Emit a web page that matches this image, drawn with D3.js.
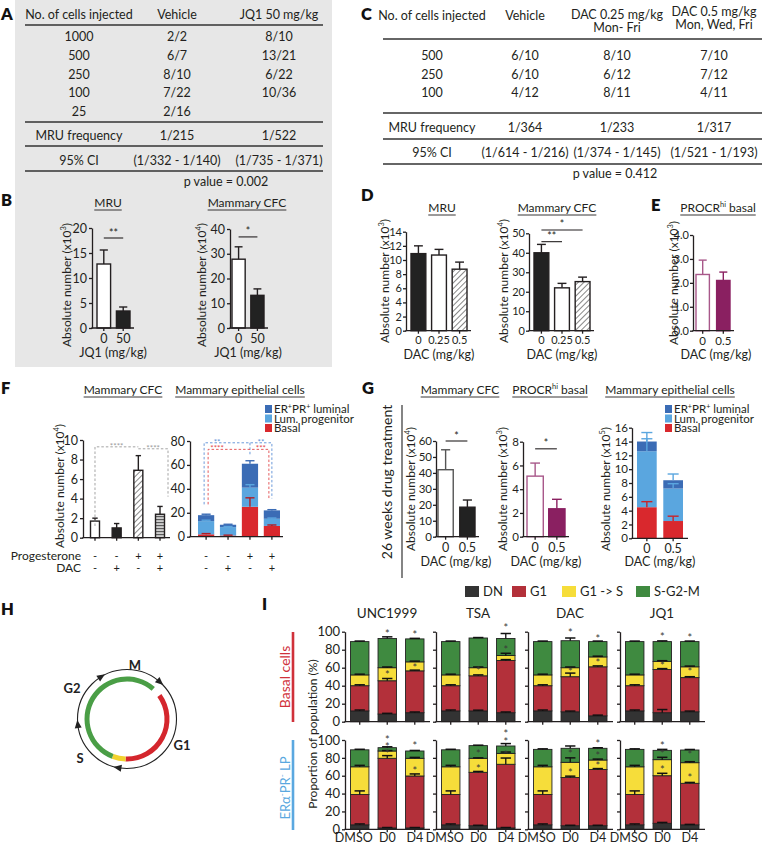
<!DOCTYPE html>
<html><head><meta charset="utf-8">
<script src="https://cdn.jsdelivr.net/npm/d3@7/dist/d3.min.js"></script>
<style>
body{margin:0;background:#fff}
svg{display:block}
text{font-family:Lato,"Open Sans",sans-serif}
</style></head><body>
<svg id="fig" width="763" height="846"></svg>
<script>
// ================= DATA =================
// Panel A table
const tableA_header = ["No. of cells injected", "Vehicle", "JQ1 50 mg/kg"];
const tableA_cells = ["1000", "500", "250", "100", "25"];
const tableA_vehicle = ["2/2", "6/7", "8/10", "7/22", "2/16"];
const tableA_jq1 = ["8/10", "13/21", "6/22", "10/36", ""];
const tableA_freq = ["MRU frequency", "1/215", "1/522"];
const tableA_ci = ["95% CI", "(1/332 - 1/140)", "(1/735 - 1/371)"];
const tableA_p = "p value = 0.002";
// Panel C table
const tableC_header = [["No. of cells injected"], ["Vehicle"], ["DAC 0.25 mg/kg", "Mon- Fri"], ["DAC 0.5 mg/kg", "Mon, Wed, Fri"]];
const tableC_cells = ["500", "250", "100"];
const tableC_vehicle = ["6/10", "6/10", "4/12"];
const tableC_dac025 = ["8/10", "6/12", "8/11"];
const tableC_dac05 = ["7/10", "7/12", "4/11"];
const tableC_freq = ["MRU frequency", "1/364", "1/233", "1/317"];
const tableC_ci = ["95% CI", "(1/614 - 1/216)", "(1/374 - 1/145)", "(1/521 - 1/193)"];
const tableC_p = "p value = 0.412";
// Panel B
const jq1Doses = ["0", "50"];
const mruB = [12.8, 3.4], mruBErr = [15.6, 4.2];
const cfcB = [27.8, 13.2], cfcBErr = [32.8, 15.8];
// Panel D
const dacDoses3 = ["0", "0.25", "0.5"];
const mruD = [10.9, 10.7, 8.7], mruDErr = [12.0, 11.5, 9.7];
const cfcD = [40, 22, 25.2], cfcDErr = [44.3, 24.3, 27.5];
// Panel E
const dacDoses2 = ["0", "0.5"];
const procrE = [2.35, 2.1], procrEErr = [2.95, 2.45];
// Panel F
const progesterone = ["-", "-", "+", "+"];
const dacF = ["-", "+", "-", "+"];
const cfcF = [1.7, 1.0, 6.9, 2.4], cfcFErr = [2.0, 1.45, 8.4, 3.2];
const basalF = [2, 1, 25, 9], basalFErr = [2.6, 1.3, 32.5, 9.8];
const lpTopF = [13, 8, 41, 15], lpTopFErr = [13.8, 8.5, 43.5, 15.6];
const totalF = [18, 10, 61, 22], totalFErr = [18.8, 10.4, 63.5, 22.6];
// Panel G
const cfcG = [42, 18.5], cfcGErr = [54.5, 23];
const procrG = [5.1, 2.35], procrGErr = [6.2, 3.15];
const basalG = [4.5, 2.5], basalGErr = [5.3, 3.2];
const lpTopG = [12.6, 7.2], lpTopGErr = [14.4, 7.9];
const totalG = [14, 8.4], totalGErr = [15.3, 9.3];
const lineageNames = ["ER\u207APR\u207A luminal", "Lum. progenitor", "Basal"];
// Panel H (degrees clockwise from 12 o'clock)
const phaseArcStart = [54, 182, 201], phaseArcEnd = [182, 201, 401];
const phaseArcColor = ["#d4262d", "#f2d22e", "#4a9e46"];
const arrowAngles = [-32, 41, 190, 263];
const phaseLabels = ["M", "G2", "G1", "S"];
// Panel I
const drugs = ["UNC1999", "TSA", "DAC", "JQ1"];
const conds = ["DMSO", "D0", "D4"];
const phases = ["DN", "G1", "G1 -> S", "S-G2-M"];
const phaseColors = ["#333333", "#b3303a", "#f6dd3a", "#3f8a40"];
// cumulative tops per drug x condition — basal cells
const basalDN  = [[12, 8.5, 10], [12, 12, 10], [12, 11, 6.5], [12, 10, 11]];
const basalG1  = [[40, 45.5, 56.5], [40, 51, 68], [40, 50, 61], [40, 58, 49]];
const basalG1S = [[52, 60, 66.5], [52, 60, 73.5], [52, 60, 72], [52, 67, 61]];
const basalTot = [[89, 92.5, 92], [89, 93, 92.5], [89, 90, 89], [89, 89, 89]];
const basalErrDN  = [[1, 0.8, 0.8], [1, 0.8, 0.8], [1, 0.8, 0.8], [1, 3.5, 0.8]];
const basalErrG1  = [[1, 2.5, 0.8], [1, 1, 1], [1, 4, 1], [1, 1, 1]];
const basalErrG1S = [[0.8, 0.8, 0.8], [0.8, 0.8, 2.5], [0.8, 0.8, 0.8], [0.8, 0.8, 0.8]];
const basalErrTot = [[0.6, 1.8, 0.6], [0.6, 0.5, 5.5], [0.6, 3, 0.6], [0.6, 0.8, 0.6]];
const basalStars = [[[], [99, 53], [98, 61]], [[], [57], [105, 81]], [[], [100, 56], [93.3, 66]], [[], [95, 63], [94.6, 56]]];
// ERα-PR- LP cells
const lpDN  = [[5, 1.5, 1.5], [5, 4, 1.5], [5, 4, 4], [5, 6.7, 5]];
const lpG1  = [[39, 79.5, 59.7], [39, 63.8, 72.8], [39, 58, 67], [39, 60, 51.5]];
const lpG1S = [[70, 87.7, 79.5], [70, 79.5, 85], [70, 75, 77.6], [70, 78, 74.6]];
const lpTot = [[89, 91.4, 87.7], [89, 93.7, 93.3], [89.5, 90.7, 90.7], [89.5, 88.4, 88.8]];
const lpErrDN  = [[1, 0.5, 0.5], [1, 0.5, 0.5], [1, 0.5, 0.5], [1, 1, 0.5]];
const lpErrG1  = [[4, 3, 2.3], [4, 1, 7], [4, 1.5, 1], [4, 2.7, 1]];
const lpErrG1S = [[1.6, 0.5, 1], [1.6, 0.5, 1.5], [1.6, 5, 1], [1.6, 2.6, 1.1]];
const lpErrTot = [[0.6, 1, 0.6], [0.6, 0.5, 2.7], [0.6, 2.6, 0.6], [0.6, 1.1, 0.6]];
const lpStars = [[[], [101.5, 93.3, 85.8], [94.4, 66.4]], [[], [85, 69], [107.5, 99.2, 84.3]], [[], [85, 64.5], [96.3, 83.2, 72]], [[], [94.4, 85, 67.5], [84, 58.2]]];

// ================= DRAWING =================
const svg = d3.select("#fig");
const INK = "#231f20";
const MAG = "#8a2061", MAGL = "#a8588a";
const C_ER = "#3b6cb5", C_LP = "#5aa6df", C_BA = "#d9282d";
const TFS = 12.5; // table font size

const defs = svg.append("defs");
const ph = defs.append("pattern").attr("id", "hatch").attr("patternUnits", "userSpaceOnUse")
  .attr("width", 4).attr("height", 4).attr("patternTransform", "rotate(45)");
ph.append("rect").attr("width", 4).attr("height", 4).attr("fill", "#fff");
ph.append("line").attr("x1", 0).attr("y1", 0).attr("x2", 0).attr("y2", 4).attr("stroke", "#222").attr("stroke-width", 1.1);
const pl = defs.append("pattern").attr("id", "hlines").attr("patternUnits", "userSpaceOnUse").attr("width", 4).attr("height", 3);
pl.append("rect").attr("width", 4).attr("height", 3).attr("fill", "#cfcfcf");
pl.append("line").attr("x1", 0).attr("x2", 4).attr("y1", 0.6).attr("y2", 0.6).attr("stroke", "#555").attr("stroke-width", 1.1);

function T(x, y, s, o = {}) {
  const fs = o.fs || 11;
  const t = svg.append("text").attr("x", x).attr("y", y).attr("font-size", fs)
    .attr("text-anchor", o.anchor || "middle").attr("fill", o.fill || INK);
  if (o.weight) t.attr("font-weight", o.weight);
  if (o.rot) t.attr("transform", `rotate(-90,${x},${y})`);
  const parts = Array.isArray(s) ? s : [s];
  let up = false;
  parts.forEach(p => {
    if (typeof p === "string") {
      const ts = t.append("tspan").text(p);
      if (up) { ts.attr("dy", fs * 0.38); up = false; }
    } else {
      t.append("tspan").text(p.sup).attr("font-size", fs * 0.62).attr("dy", -fs * 0.38);
      up = true;
    }
  });
  return t;
}
function L(x1, y1, x2, y2, stroke = INK, w = 1.3, dash = null) {
  const l = svg.append("line").attr("x1", x1).attr("y1", y1).attr("x2", x2).attr("y2", y2)
    .attr("stroke", stroke).attr("stroke-width", w);
  if (dash) l.attr("stroke-dasharray", dash);
  return l;
}
function title(x, y, s, fs = 12) {
  const t = T(x, y, s, { fs });
  const b = t.node().getBBox();
  L(b.x, y + 3, b.x + b.width, y + 3, INK, 0.9);
}
function letter(x, y, s) { T(x, y, s, { fs: 16.5, weight: 800, anchor: "start", fill: "#111" }); }
function styleAxis(g, fs = 12) {
  g.attr("font-family", "Lato, 'Open Sans', sans-serif").attr("font-size", fs);
  g.selectAll("path,line").attr("stroke", INK).attr("stroke-width", 1.3);
  g.selectAll("text").attr("fill", INK);
}
function ylab(x, y, p) { T(x, y, ["Absolute number  (x10", { sup: p }, ")"], { rot: true, fs: 12 }); }

// ---------- generic bar chart ----------
function barChart(c) {
  const n = c.values.length;
  const x = d3.scaleBand().domain(d3.range(n)).range(c.band).paddingInner(c.pi).paddingOuter(0);
  const y = d3.scaleLinear().domain([0, c.ymax]).range([c.yBot, c.yTop]);
  const bw = x.bandwidth();
  const g = svg.append("g");
  if (c.stack) {
    c.stack.forEach((layer, li) => {
      layer.vals.forEach((v, i) => {
        const base = li === 0 ? 0 : c.stack[li - 1].vals[i];
        g.append("rect").attr("x", x(i)).attr("y", y(v)).attr("width", bw)
          .attr("height", y(base) - y(v)).attr("fill", layer.color);
      });
    });
    c.stack.forEach(layer => {
      layer.vals.forEach((v, i) => {
        const cx = x(i) + bw / 2, e = layer.errs[i];
        g.append("line").attr("x1", cx).attr("x2", cx).attr("y1", y(v)).attr("y2", y(e)).attr("stroke", layer.errColor).attr("stroke-width", 1.4);
        g.append("line").attr("x1", cx - bw * 0.28).attr("x2", cx + bw * 0.28).attr("y1", y(e)).attr("y2", y(e)).attr("stroke", layer.errColor).attr("stroke-width", 1.4);
      });
    });
  } else {
    c.values.forEach((v, i) => {
      const cx = x(i) + bw / 2, e = c.errs[i];
      const ec = c.errColors ? c.errColors[i] : INK;
      g.append("line").attr("x1", cx).attr("x2", cx).attr("y1", y(v)).attr("y2", y(e)).attr("stroke", ec).attr("stroke-width", 1.4);
      g.append("line").attr("x1", cx - bw * 0.3).attr("x2", cx + bw * 0.3).attr("y1", y(e)).attr("y2", y(e)).attr("stroke", ec).attr("stroke-width", 1.4);
      g.append("rect").attr("x", x(i)).attr("y", y(v)).attr("width", bw).attr("height", c.yBot - y(v))
        .attr("fill", c.fills[i]).attr("stroke", c.strokes[i]).attr("stroke-width", 1.4);
    });
  }
  const ya = d3.axisLeft(y).tickValues(d3.range(0, c.ymax + c.step / 2, c.step)).tickSize(3).tickSizeOuter(0).tickPadding(c.ypad == null ? 2 : c.ypad);
  g.append("g").attr("transform", `translate(${c.axisX},0)`).call(ya).call(a => styleAxis(a, c.fs || 12.5));
  const xa = d3.axisBottom(x).tickFormat(i => c.labels ? c.labels[i] : "").tickSize(3).tickSizeOuter(0).tickPadding(c.xpad || 3);
  const xg = g.append("g").attr("transform", `translate(0,${c.yBot})`).call(xa).call(a => styleAxis(a, c.xfs || c.fs || 12.5));
  xg.select(".domain").remove();
  g.append("line").attr("x1", c.axisX - 0.6).attr("x2", c.axisEnd).attr("y1", c.yBot).attr("y2", c.yBot).attr("stroke", INK).attr("stroke-width", 1.3);
  (c.sig || []).forEach(s => {
    const yy = y(s[2]);
    L(x(s[0]) + bw / 2, yy, x(s[1]) + bw / 2, yy, INK, 1.1);
    T((x(s[0]) + x(s[1]) + bw) / 2, yy - 1.5, s[3], { fs: 10.5 });
  });
  return { x, y, bw };
}

// ================= PANEL A =================
svg.append("rect").attr("x", 15).attr("y", 0).attr("width", 317).attr("height", 367).attr("fill", "#e7e7e7");
letter(1, 20, "A");
const colA = [79, 177, 279];
tableA_header.forEach((h, i) => T(colA[i], 19, h, { fs: TFS }));
L(25, 25, 323, 25, "#333", 1.5);
const rowA = [41, 60, 79, 97, 116];
tableA_cells.forEach((n, r) => {
  T(colA[0], rowA[r], n, { fs: TFS });
  T(colA[1], rowA[r], tableA_vehicle[r], { fs: TFS });
  T(colA[2], rowA[r], tableA_jq1[r], { fs: TFS });
});
L(25, 122, 323, 122, "#333", 1.5);
tableA_freq.forEach((s, i) => T(colA[i], 140, s, { fs: TFS }));
L(25, 146, 323, 146, "#333", 1.5);
tableA_ci.forEach((s, i) => T(colA[i], 165, s, { fs: TFS }));
L(25, 171, 323, 171, "#333", 1.5);
T(226, 186, tableA_p, { fs: TFS });

// ================= PANEL C =================
letter(361, 20, "C");
const colC = [432, 525, 617, 714];
const hdrY = [[20], [20], [19, 32], [16, 29]];
tableC_header.forEach((h, i) => h.forEach((s, j) => T(colC[i], hdrY[i][j], s, { fs: TFS })));
L(383, 39, 762, 39, "#333", 1.5);
const rowC = [60, 79, 97];
tableC_cells.forEach((n, r) => {
  T(colC[0], rowC[r], n, { fs: TFS });
  T(colC[1], rowC[r], tableC_vehicle[r], { fs: TFS });
  T(colC[2], rowC[r], tableC_dac025[r], { fs: TFS });
  T(colC[3], rowC[r], tableC_dac05[r], { fs: TFS });
});
L(383, 113, 762, 113, "#333", 1.5);
tableC_freq.forEach((s, i) => T(colC[i], 132, s, { fs: TFS }));
L(383, 139, 762, 139, "#333", 1.5);
tableC_ci.forEach((s, i) => T(colC[i], 157, s, { fs: TFS }));
L(383, 164, 762, 164, "#333", 1.5);
T(615, 178, tableC_p, { fs: TFS });

// ================= PANEL B =================
letter(1, 206, "B");
title(108, 207, "MRU");
title(247, 207, "Mammary CFC");
barChart({ values: mruB, errs: mruBErr, fills: ["#fff", "#222"], strokes: [INK, INK], labels: jq1Doses,
  band: [97, 130], pi: 0.3, axisX: 92, axisEnd: 134, yTop: 228, yBot: 328, ymax: 20, step: 5, sig: [[0, 1, 18, "**"]] });
barChart({ values: cfcB, errs: cfcBErr, fills: ["#fff", "#222"], strokes: [INK, INK], labels: jq1Doses,
  band: [232, 264], pi: 0.3, axisX: 230, axisEnd: 268, yTop: 229, yBot: 328, ymax: 40, step: 10, sig: [[0, 1, 36.8, "*"]] });
ylab(70.5, 285, "3");
ylab(205.5, 285, "4");
T(113, 357, "JQ1 (mg/kg)", { fs: 12.5 });
T(248, 357, "JQ1 (mg/kg)", { fs: 12.5 });

// ================= PANEL D =================
letter(361, 201, "D");
title(442, 212, "MRU");
title(557, 212, "Mammary CFC");
barChart({ values: mruD, errs: mruDErr, fills: ["#222", "#fff", "url(#hatch)"], strokes: [INK, INK, INK], labels: dacDoses3,
  band: [411, 467], pi: 0.28, axisX: 406, axisEnd: 471, yTop: 231.7, yBot: 330.7, ymax: 14, step: 2, fs: 11, xfs: 11, ypad: 1 });
barChart({ values: cfcD, errs: cfcDErr, fills: ["#222", "#fff", "url(#hatch)"], strokes: [INK, INK, INK], labels: dacDoses3,
  band: [534, 590], pi: 0.28, axisX: 529, axisEnd: 594, yTop: 233.3, yBot: 330.7, ymax: 50, step: 10, fs: 11, xfs: 11, ypad: 1,
  sig: [[0, 1, 45.7, "**"], [0, 2, 51.7, "*"]] });
ylab(389, 281, "3");
ylab(508, 281, "4");
T(439, 359, "DAC (mg/kg)", { fs: 12.5 });
T(562, 359, "DAC (mg/kg)", { fs: 12.5 });

// ================= PANEL E =================
letter(651, 211, "E");
title(718, 212, ["PROCR", { sup: "hi" }, " basal"]);
barChart({ values: procrE, errs: procrEErr, fills: ["#fff", MAG], strokes: [MAGL, MAG], errColors: [MAGL, MAG], labels: dacDoses2,
  band: [696, 730], pi: 0.35, axisX: 693, axisEnd: 734, yTop: 235, yBot: 330.7, ymax: 4, step: 1, fs: 11, xfs: 11.5, ypad: 1 });
ylab(678, 283, "3");
T(716, 359, "DAC (mg/kg)", { fs: 12.5 });

// ================= PANEL F =================
letter(1, 394, "F");
title(123, 394, "Mammary CFC");
title(240, 394, "Mammary epithelial cells");
const fC = barChart({ values: cfcF, errs: cfcFErr, fills: ["#fff", "#222", "url(#hatch)", "url(#hlines)"], strokes: [INK, INK, INK, INK],
  band: [90.5, 164.5], pi: 0.585, axisX: 83, axisEnd: 170, yTop: 440, yBot: 537.7, ymax: 10, step: 2 });
const fE = barChart({ values: totalF, band: [198, 280], pi: 0.26, axisX: 190, axisEnd: 283, yTop: 441, yBot: 536.7, ymax: 80, step: 20,
  stack: [
    { vals: basalF, errs: basalFErr, color: C_BA, errColor: "#b01e24" },
    { vals: lpTopF, errs: lpTopFErr, color: C_LP, errColor: C_LP },
    { vals: totalF, errs: totalFErr, color: C_ER, errColor: C_ER }] });
ylab(63.5, 486, "4");
// dashed significance brackets
const GR = "#9a9a9a";
function P(d, stroke) { svg.append("path").attr("d", d).attr("fill", "none").attr("stroke", stroke).attr("stroke-width", 0.9).attr("stroke-dasharray", "2.5,2"); }
const fcx = i => fC.x(i) + fC.bw / 2, fex = i => fE.x(i) + fE.bw / 2;
P(`M${fcx(0)},${fC.y(1.2)}V${fC.y(9.3)}H${fcx(2)}`, GR);
P(`M${fcx(2)},${fC.y(9.1)}H${fcx(3) + 8}V${fC.y(4.2)}`, GR);
T((fcx(0) + fcx(2)) / 2, fC.y(9.3) + 2, "****", { fs: 8, fill: GR });
T((fcx(2) + fcx(3) + 8) / 2, fC.y(9.1) + 2, "****", { fs: 8, fill: GR });
P(`M${fex(0) - 2},${fE.y(27)}V${fE.y(78.5)}H${fex(3)}V${fE.y(32)}M${fex(2)},${fE.y(78.5)}V${fE.y(68)}`, "#5b8fd6");
P(`M${fex(0) + 2},${fE.y(27)}V${fE.y(73)}H${fex(3) - 3}V${fE.y(32)}`, "#e2474b");
T((fex(0) + fex(1)) / 2, fE.y(78.5) + 2, "**", { fs: 8, fill: "#5b8fd6" });
T((fex(2) + fex(3)) / 2, fE.y(78.5) + 2, "**", { fs: 8, fill: "#5b8fd6" });
T((fex(0) + fex(1)) / 2, fE.y(73) + 2, "****", { fs: 8, fill: "#e2474b" });
T((fex(2) + fex(3)) / 2, fE.y(73) + 2, "***", { fs: 8, fill: "#e2474b" });
// legend F
const legF = [C_ER, C_LP, C_BA];
function lineageLegend(x0) {
  lineageNames.forEach((nm, i) => {
    const yy = 409 + i * 9.5;
    svg.append("rect").attr("x", x0).attr("y", yy - 4).attr("width", 7).attr("height", 8).attr("fill", legF[i]);
    T(x0 + 9, yy + 4, nm.includes("\u207A") ? ["ER", { sup: "+" }, "PR", { sup: "+" }, " luminal"] : nm, { fs: 11.5, anchor: "start" });
  });
}
lineageLegend(265);
T(81, 560, "Progesterone", { fs: 12, anchor: "end" });
T(81, 572, "DAC", { fs: 12, anchor: "end" });
progesterone.forEach((s, i) => { T(fcx(i), 560, s, { fs: 11 }); T(fex(i), 560, s, { fs: 11 }); });
dacF.forEach((s, i) => { T(fcx(i), 572, s, { fs: 11 }); T(fex(i), 572, s, { fs: 11 }); });

// ================= PANEL G =================
letter(362, 394, "G");
title(460, 394, "Mammary CFC");
title(550, 394, ["PROCR", { sup: "hi" }, " basal"]);
title(670, 394, "Mammary epithelial cells");
T(392, 482, "26 weeks drug treatment", { rot: true, fs: 14 });
L(402, 405, 402, 578, "#333", 1.2);
barChart({ values: cfcG, errs: cfcGErr, fills: ["#fff", "#222"], strokes: ["#555", INK], errColors: ["#555", INK], labels: dacDoses2,
  band: [438, 475], pi: 0.3, axisX: 436, axisEnd: 479, yTop: 441, yBot: 536.7, ymax: 60, step: 10, fs: 11.5, xfs: 12.5, ypad: 1, sig: [[0, 1, 60, "*"]] });
barChart({ values: procrG, errs: procrGErr, fills: ["#fff", MAG], strokes: [MAGL, MAG], errColors: [MAGL, MAG], labels: dacDoses2,
  band: [527, 565], pi: 0.25, axisX: 523, axisEnd: 569, yTop: 441.7, yBot: 536.7, ymax: 8, step: 2, fs: 11.5, xfs: 12.5, ypad: 1, sig: [[0, 1, 7.4, "*"]] });
barChart({ values: totalG, labels: dacDoses2, band: [637, 683], pi: 0.25, axisX: 632, axisEnd: 688, yTop: 427.7, yBot: 538.3, ymax: 16, step: 2, fs: 11.5, xfs: 12.5, ypad: 1,
  stack: [
    { vals: basalG, errs: basalGErr, color: C_BA, errColor: "#c8242a" },
    { vals: lpTopG, errs: lpTopGErr, color: C_LP, errColor: C_LP },
    { vals: totalG, errs: totalGErr, color: C_ER, errColor: C_LP }] });
ylab(415, 489, "4");
ylab(506.5, 489, "3");
ylab(609.5, 489, "5");
T(456, 566, "DAC (mg/kg)", { fs: 12.5 });
T(546, 566, "DAC (mg/kg)", { fs: 12.5 });
T(660, 566, "DAC (mg/kg)", { fs: 12.5 });
lineageLegend(665);

// ================= PANEL H =================
letter(1, 615, "H");
const hc = [127, 719];
const arc = d3.arc().innerRadius(37.5).outerRadius(42.5);
phaseArcStart.forEach((s, i) => {
  svg.append("path").attr("transform", `translate(${hc[0]},${hc[1]})`)
    .attr("d", arc({ startAngle: s * Math.PI / 180, endAngle: phaseArcEnd[i] * Math.PI / 180 })).attr("fill", phaseArcColor[i]);
});
svg.append("circle").attr("cx", hc[0]).attr("cy", hc[1]).attr("r", 49.5).attr("fill", "none").attr("stroke", "#222").attr("stroke-width", 1.1);
arrowAngles.forEach(a => {
  const t = a * Math.PI / 180, r = 49.5;
  const px = hc[0] + r * Math.sin(t), py = hc[1] - r * Math.cos(t);
  const tx = Math.cos(t), ty = Math.sin(t), nx = Math.sin(t), ny = -Math.cos(t);
  const tip = [px + tx * 5, py + ty * 5], b1 = [px - tx * 3 + nx * 3.5, py - ty * 3 + ny * 3.5], b2 = [px - tx * 3 - nx * 3.5, py - ty * 3 - ny * 3.5];
  svg.append("path").attr("d", `M${tip}L${b1}L${b2}Z`).attr("fill", "#222");
});
const phaseLabelPos = [[135, 670], [72, 693], [182, 750], [80, 763]];
phaseLabels.forEach((s, i) => T(phaseLabelPos[i][0], phaseLabelPos[i][1], s, { fs: 13, weight: 700, fill: "#222" }));

// ================= PANEL I =================
letter(262, 610, "I");
L(293, 632, 293, 722, "#d0313a", 2.6);
L(293, 740, 293, 830, "#5aa8e0", 2.6);
T(289.5, 677, "Basal cells", { rot: true, fs: 14, fill: "#d0313a" });
T(289.5, 788, ["ER\u03B1", { sup: "-" }, "PR", { sup: "-" }, " LP"], { rot: true, fs: 13, fill: "#5aa8e0" });
T(316.5, 734, "Proportion of population (%)", { rot: true, fs: 12 });
// legend
const legX = [465, 512, 562, 636];
phases.forEach((p, i) => {
  svg.append("rect").attr("x", legX[i]).attr("y", 586).attr("width", 14).attr("height", 11).attr("fill", phaseColors[i]);
  T(legX[i] + 18, 596, p, { fs: 13, anchor: "start" });
});
const iAxisX = [345, 436, 528, 620];
const rowGeo = [[631.7, 721.7], [740, 829.3]];
const rowData = [
  [basalDN, basalG1, basalG1S, basalTot, [basalErrDN, basalErrG1, basalErrG1S, basalErrTot], basalStars],
  [lpDN, lpG1, lpG1S, lpTot, [lpErrDN, lpErrG1, lpErrG1S, lpErrTot], lpStars]];
drugs.forEach((dname, k) => {
  const ax = iAxisX[k];
  T(ax + 42, 618, dname, { fs: 13.5 });
  const x = d3.scaleBand().domain(conds).range([ax + 5.5, ax + 79]).paddingInner(0.33).paddingOuter(0);
  const bw = x.bandwidth();
  rowGeo.forEach((geo, r) => {
    const y = d3.scaleLinear().domain([0, 100]).range([geo[1], geo[0]]);
    const D = rowData[r];
    const g = svg.append("g");
    conds.forEach((cn, ci) => {
      const tops = [D[0][k][ci], D[1][k][ci], D[2][k][ci], D[3][k][ci]];
      tops.forEach((tp, si) => {
        const base = si === 0 ? 0 : tops[si - 1];
        g.append("rect").attr("x", x(cn)).attr("y", y(tp)).attr("width", bw).attr("height", y(base) - y(tp))
          .attr("fill", phaseColors[si]).attr("stroke", "#222").attr("stroke-width", 0.9);
      });
      tops.forEach((tp, si) => {
        const e = tp + D[4][si][k][ci], cx = x(cn) + bw / 2;
        g.append("line").attr("x1", cx).attr("x2", cx).attr("y1", y(tp)).attr("y2", y(e)).attr("stroke", "#111").attr("stroke-width", 1.3);
        g.append("line").attr("x1", cx - bw * 0.28).attr("x2", cx + bw * 0.28).attr("y1", y(e)).attr("y2", y(e)).attr("stroke", "#111").attr("stroke-width", 1.5);
      });
      D[5][k][ci].forEach(sv => T(x(cn) + bw / 2, y(sv) + 5, "*", { fs: 11, fill: "#3a3a3a" }));
    });
    const ya = d3.axisLeft(y).tickValues(d3.range(0, 101, 20)).tickSize(3).tickSizeOuter(0).tickPadding(2)
      .tickFormat(v => k === 0 ? v : "");
    g.append("g").attr("transform", `translate(${ax},0)`).call(ya).call(a => styleAxis(a, 13));
    const xa = d3.axisBottom(x).tickSize(3).tickSizeOuter(0).tickPadding(1).tickFormat(v => r === 1 ? v : "");
    const xg = g.append("g").attr("transform", `translate(0,${geo[1]})`).call(xa).call(a => styleAxis(a, 12.5));
    xg.selectAll(".tick text").attr("dx", v => v === "DMSO" ? -6 : 0);
    xg.select(".domain").remove();
    g.append("line").attr("x1", ax - 0.6).attr("x2", ax + 85).attr("y1", geo[1]).attr("y2", geo[1]).attr("stroke", INK).attr("stroke-width", 1.3);
  });
});
</script></body></html>
